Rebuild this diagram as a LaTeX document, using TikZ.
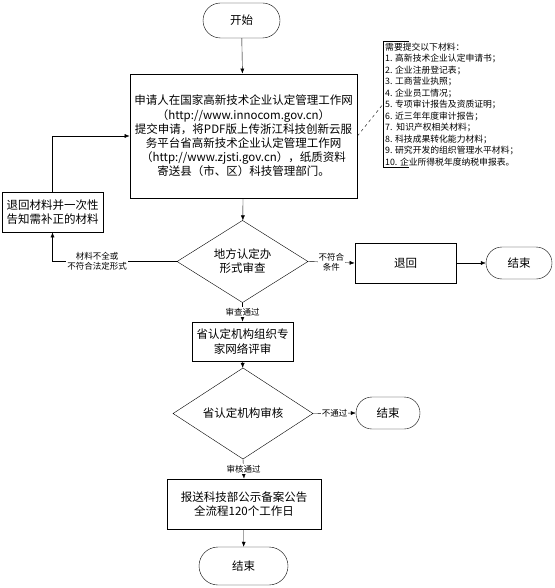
\documentclass[tikz,border=0pt]{standalone}
\usepackage{fontspec}
\setmainfont{Noto Sans CJK SC}
\usetikzlibrary{shapes.geometric,shapes.misc,arrows.meta}

\begin{document}
\begin{tikzpicture}[
        x=1pt, y=-1pt,
        box/.style={draw, thick, inner sep=0pt, align=center, font=\fontsize{11.5}{14.2}\selectfont},
        term/.style={draw, rounded rectangle, inner sep=0pt, font=\fontsize{11.5}{14}\selectfont},
        dec/.style={draw, diamond, inner sep=0pt, align=center, font=\fontsize{11.5}{14}\selectfont},
        arr/.style={-{Latex[length=5pt,width=4pt]}},
        lab/.style={fill=white, inner sep=1pt, align=center, font=\fontsize{8.5}{10}\selectfont}
    ]
    \useasboundingbox (0,0) rectangle (554,588);
    % main column
    \node[term, minimum width=77, minimum height=35] (start) at (241.5,20.5) {开始};
    \node[box, minimum width=227, minimum height=124] (apply) at (243.5,136) {申请人在国家高新技术企业认定管理工作网\\（http://www.innocom.gov.cn）\\提交申请，将PDF版上传浙江科技创新云服\\务平台省高新技术企业认定管理工作网\\（http://www.zjsti.gov.cn），纸质资料\\寄送县（市、区）科技管理部门。};
    \node[dec, minimum width=131, minimum height=51] (local) at (242.5,261.5) {地方认定办\\形式审查};
    \node[box, minimum width=101, minimum height=39] (expert) at (242.5,341.5) {省认定机构组织专\\家网络评审};
    \node[dec, minimum width=140, minimum height=53] (prov) at (243,413.5) {省认定机构审核};
    \node[box, minimum width=154, minimum height=50] (report) at (244,504) {报送科技部公示备案公告\\全流程120个工作日};
    \node[term, minimum width=89, minimum height=38] (end3) at (243.5,566) {结束};
    % side branches
    \node[box, minimum width=101, minimum height=40] (back) at (52.5,212) {退回材料并一次性\\告知需补正的材料};
    \node[box, minimum width=101, minimum height=40] (ret) at (405.5,263) {退回};
    \node[term, minimum width=66, minimum height=32] (end1) at (519,263) {结束};
    \node[term, minimum width=64, minimum height=32] (end2) at (388,413) {结束};
    % list of materials
    \node[anchor=north west, inner xsep=2pt, inner ysep=0pt, minimum height=126, align=left,
          font=\fontsize{8.8}{11.5}\selectfont] (note) at (383,41) {需要提交以下材料：\\1. 高新技术企业认定申请书；\\2. 企业注册登记表；\\3. 工商营业执照；\\4. 企业员工情况；\\5. 专项审计报告及资质证明；\\6. 近三年年度审计报告；\\7.\ \ 知识产权相关材料；\\8. 科技成果转化能力材料；\\9. 研究开发的组织管理水平材料；\\10. 企业所得税年度纳税申报表。};
    \draw[thick] ([xshift=26pt]note.north west) -- (note.north west) -- (note.south west) -- ++(26,0);
    \draw[dashed] (apply.east) -- (note.west);
    % connectors
    \draw[arr] (start) -- (apply);
    \draw[arr] (apply) -- (local);
    \draw[arr] (local.west) -| node[lab, pos=0.32] {材料不全或\\不符合法定形式} (back.south);
    \draw[arr] (back.north) |- (apply.west);
    \draw[arr] (local.east) -- node[lab] {不符合\\条件} (ret.west);
    \draw[arr] (ret) -- (end1);
    \draw[arr] (local.south) -- node[lab] {审查通过} (expert.north);
    \draw[arr] (expert) -- (prov);
    \draw[arr] (prov.east) -- node[lab] {不通过} (end2.west);
    \draw[arr] (prov.south) -- node[lab] {审核通过} (report.north);
    \draw[arr] (report) -- (end3);
\end{tikzpicture}
\end{document}
